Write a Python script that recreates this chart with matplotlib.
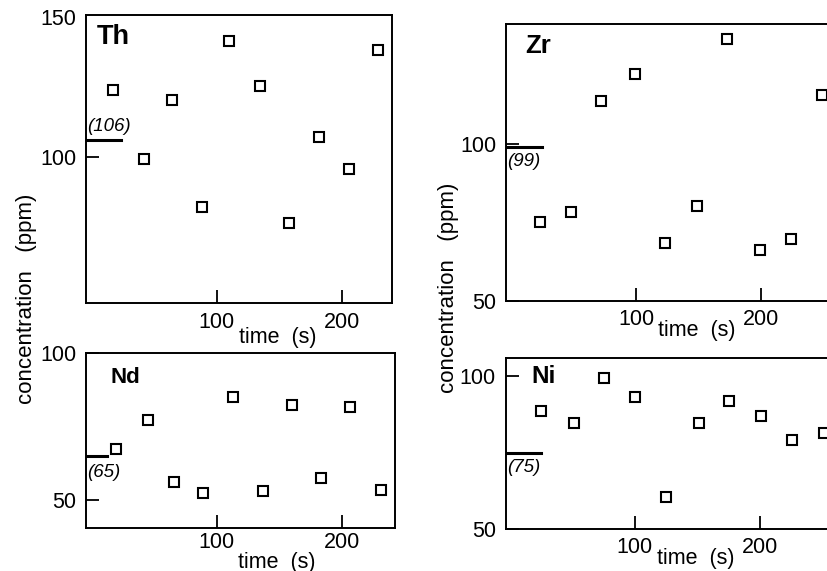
import numpy as np
from matplotlib import pyplot as plt

plt.rcParams['font.family'] = ['Liberation Sans', 'DejaVu Sans']

# measured concentrations (ppm) against time (s), one list per element
elements = ['Th', 'Zr', 'Nd', 'Ni']
time_th = [17, 42, 64, 88, 110, 135, 158, 182, 206, 229]
conc_th = [123.9, 99.3, 120.5, 82.4, 141.3, 125.4, 76.5, 107.3, 95.8, 138.1]
time_zr = [23, 48, 72, 99, 123, 149, 173, 199, 224, 249]
conc_zr = [75.3, 78.3, 113.7, 122.2, 68.6, 80.2, 133.3, 66.3, 69.8, 115.5]
time_nd = [20, 45, 66, 89, 113, 137, 160, 183, 206, 231]
conc_nd = [67.4, 77.2, 56.1, 52.4, 85.0, 53.1, 82.2, 57.5, 81.5, 53.3]
time_ni = [25, 51, 75, 100, 125, 151, 175, 201, 226, 251]
conc_ni = [88.5, 84.7, 99.4, 93.1, 60.5, 84.7, 91.7, 87.0, 79.0, 81.5]
# reference (certified) values shown as short bars on the y axis
ref_values = [106, 99, 65, 75]
x_ticks = [100, 200]
y_ticks = [[100, 150], [50, 100], [50, 100], [50, 100]]

times = [time_th, time_zr, time_nd, time_ni]
concs = [conc_th, conc_zr, conc_nd, conc_ni]

# layout (pixels) and per panel styling
W, H = 828, 571
boxes = [(86, 15, 392, 303), (506, 24, 838, 301),
         (86, 352.7, 395, 528.3), (505.7, 357.7, 839, 529)]
xlims = [(-4.6, 240.2), (-4, 261.6), (-4, 242), (-3.4, 263.4)]
ylims = [(48, 150.7), (50, 138.2), (40.4, 100), (50, 106)]
title_pos = [(0.035, 0.899, 19.5), (0.057, 0.894, 18.5), (0.078, 0.829, 16), (0.078, 0.851, 17.5)]
ref_len = [0.114, 0.108, 0.067, 0.106]
ref_lab = [(1, 4, 'bottom'), (1, -4, 'top'), (1, -6, 'top'), (1, -5, 'top')]
xlab_pos = [(0.627, -0.1215), (0.575, -0.108), (0.618, -0.192), (0.571, -0.175)]
xpad = [6.5, 5.5, 3, 6]

fig = plt.figure(figsize=(W / 100, H / 100), dpi=100)

for i, name in enumerate(elements):
    l, t, r, b = boxes[i]
    ax = fig.add_axes([l / W, 1 - b / H, (r - l) / W, (b - t) / H])
    ax.plot(times[i], concs[i], 's', ms=7, mfc='white', mec='black', mew=1.5)
    ax.set_xlim(*xlims[i])
    ax.set_ylim(*ylims[i])
    ax.set_xticks(x_ticks)
    ax.set_yticks(y_ticks[i])
    ax.tick_params(direction='in', length=9.5, width=1.3, labelsize=15.5)
    ax.tick_params(axis='y', pad=7)
    ax.tick_params(axis='x', pad=xpad[i])
    for s in ax.spines.values():
        s.set_linewidth(1.4)
    if name == 'Th':
        # top tick sits under the frame in the original
        ax.yaxis.get_major_ticks()[1].tick1line.set_visible(False)

    tx, ty, ts = title_pos[i]
    ax.text(tx, ty, name, transform=ax.transAxes, fontsize=ts,
            fontweight='bold', va='baseline', ha='left')

    ax.axhline(ref_values[i], xmin=0, xmax=ref_len[i], color='black', lw=2.2)
    dx, dy, va = ref_lab[i]
    ax.annotate('(%d)' % ref_values[i], xy=(0, ref_values[i]),
                xycoords=ax.get_yaxis_transform(), xytext=(dx, dy),
                textcoords='offset points', va=va, ha='left',
                fontsize=13.5, style='italic')

    lx, ly = xlab_pos[i]
    ax.text(lx, ly, 'time  (s)', transform=ax.transAxes, fontsize=15.5,
            ha='center', va='center')

fig.text(27 / W, 1 - 299 / H, 'concentration   (ppm)', rotation=90,
         fontsize=16, ha='center', va='center')
fig.text(449 / W, 1 - 288 / H, 'concentration   (ppm)', rotation=90,
         fontsize=16, ha='center', va='center')

plt.savefig('out.png', dpi=100)
